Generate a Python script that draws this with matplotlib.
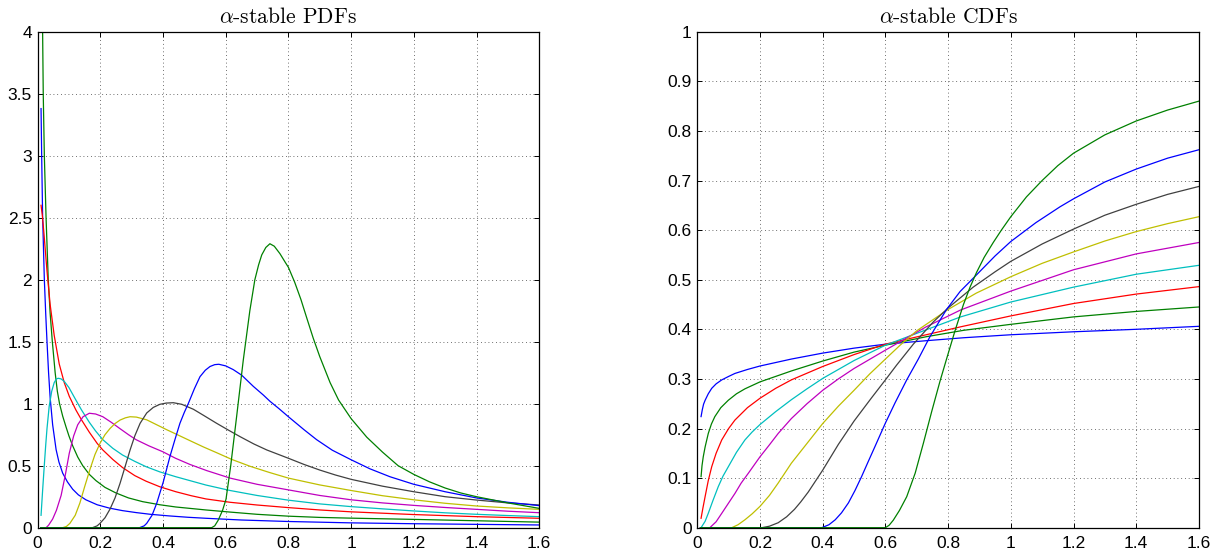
import matplotlib
matplotlib.use("Agg")
import matplotlib.pyplot as plt

plt.rcParams['mathtext.fontset'] = 'cm'
plt.rcParams['font.family'] = ['Liberation Sans', 'DejaVu Sans']

# ---------------- data ----------------
colors = ['#0000ff', '#008000', '#ff0000', '#00bfbf', '#bf00bf', '#bfbf00', '#404040', '#0000ff', '#008000']

# PDFs
pdf1_x = [0.011, 0.013, 0.016, 0.0215, 0.026, 0.03, 0.035, 0.04, 0.048, 0.059, 0.068, 0.08, 0.095, 0.112, 0.13, 0.154, 0.19, 0.229, 0.27, 0.314, 0.36, 0.42, 0.48, 0.537, 0.65, 0.8, 1.0, 1.2, 1.4, 1.6]
pdf1_y = [3.38, 3.0, 2.51, 2.0, 1.72, 1.5, 1.25, 1.05, 0.83, 0.63, 0.53, 0.44, 0.37, 0.31, 0.265, 0.225, 0.185, 0.158, 0.138, 0.122, 0.108, 0.095, 0.084, 0.076, 0.062, 0.05, 0.039, 0.032, 0.027, 0.022]
pdf2_x = [0.012, 0.016, 0.018, 0.0215, 0.027, 0.034, 0.04, 0.047, 0.056, 0.063, 0.07, 0.08, 0.091, 0.1, 0.112, 0.128, 0.144, 0.165, 0.186, 0.215, 0.25, 0.29, 0.335, 0.39, 0.441, 0.537, 0.614, 0.7, 0.8, 0.9, 1.0, 1.2, 1.4, 1.6]
pdf2_y = [5.0, 4.0, 3.5, 3.0, 2.5, 2.0, 1.73, 1.5, 1.25, 1.1, 1.0, 0.9, 0.81, 0.74, 0.66, 0.57, 0.5, 0.43, 0.38, 0.325, 0.28, 0.24, 0.21, 0.185, 0.167, 0.143, 0.126, 0.108, 0.093, 0.083, 0.077, 0.067, 0.056, 0.045]
pdf3_x = [0.011, 0.015, 0.02, 0.03, 0.04, 0.053, 0.069, 0.085, 0.101, 0.122, 0.14, 0.165, 0.19, 0.208, 0.24, 0.271, 0.31, 0.346, 0.39, 0.441, 0.49, 0.537, 0.614, 0.7, 0.8, 0.9, 1.0, 1.2, 1.4, 1.6]
pdf3_y = [2.6, 2.52, 2.38, 2.07, 1.80, 1.55, 1.32, 1.17, 1.06, 0.95, 0.87, 0.77, 0.68, 0.627, 0.55, 0.485, 0.42, 0.375, 0.33, 0.29, 0.258, 0.232, 0.205, 0.183, 0.162, 0.143, 0.128, 0.106, 0.089, 0.076]
pdf4_x = [0.011, 0.016, 0.021, 0.026, 0.03, 0.037, 0.045, 0.053, 0.06, 0.066, 0.075, 0.085, 0.1, 0.122, 0.14, 0.165, 0.185, 0.208, 0.24, 0.271, 0.31, 0.346, 0.39, 0.441, 0.537, 0.614, 0.7, 0.8, 0.9, 1.0, 1.1, 1.2, 1.3, 1.4, 1.5, 1.6]
pdf4_y = [0.10, 0.3, 0.49, 0.67, 0.8, 0.98, 1.1, 1.17, 1.2, 1.205, 1.2, 1.18, 1.13, 1.03, 0.95, 0.85, 0.78, 0.71, 0.64, 0.586, 0.535, 0.492, 0.45, 0.411, 0.344, 0.30, 0.26, 0.222, 0.192, 0.17, 0.152, 0.135, 0.12, 0.108, 0.098, 0.089]
pdf5_x = [0.01, 0.027, 0.035, 0.048, 0.06, 0.075, 0.088, 0.101, 0.115, 0.128, 0.145, 0.165, 0.185, 0.208, 0.235, 0.261, 0.29, 0.314, 0.355, 0.399, 0.44, 0.486, 0.54, 0.614, 0.7, 0.8, 0.9, 1.0, 1.1, 1.2, 1.3, 1.4, 1.5, 1.6]
pdf5_y = [0, 0, 0.02, 0.07, 0.14, 0.26, 0.42, 0.6, 0.74, 0.83, 0.895, 0.923, 0.917, 0.895, 0.85, 0.802, 0.75, 0.71, 0.66, 0.613, 0.56, 0.51, 0.46, 0.40, 0.35, 0.305, 0.26, 0.225, 0.2, 0.18, 0.163, 0.148, 0.133, 0.121]
pdf6_x = [0.01, 0.08, 0.092, 0.103, 0.12, 0.135, 0.15, 0.167, 0.183, 0.199, 0.215, 0.231, 0.247, 0.263, 0.28, 0.295, 0.315, 0.348, 0.38, 0.412, 0.45, 0.486, 0.53, 0.571, 0.62, 0.678, 0.74, 0.8, 0.9, 1.0, 1.1, 1.2, 1.3, 1.4, 1.5, 1.6]
pdf6_y = [0, 0, 0.01, 0.035, 0.1, 0.2, 0.33, 0.47, 0.59, 0.68, 0.75, 0.80, 0.84, 0.868, 0.886, 0.895, 0.892, 0.87, 0.83, 0.79, 0.745, 0.702, 0.65, 0.605, 0.55, 0.495, 0.445, 0.40, 0.345, 0.3, 0.258, 0.225, 0.197, 0.175, 0.16, 0.148]
pdf7_x = [0.01, 0.175, 0.19, 0.199, 0.215, 0.231, 0.247, 0.263, 0.28, 0.295, 0.31, 0.327, 0.348, 0.369, 0.39, 0.41, 0.433, 0.46, 0.497, 0.53, 0.571, 0.61, 0.646, 0.69, 0.731, 0.8, 0.85, 0.9, 0.95, 1.0, 1.1, 1.2, 1.3, 1.4, 1.5, 1.6]
pdf7_y = [0, 0, 0.015, 0.035, 0.08, 0.15, 0.24, 0.358, 0.5, 0.627, 0.74, 0.842, 0.925, 0.97, 0.995, 1.005, 1.008, 0.995, 0.955, 0.905, 0.842, 0.785, 0.734, 0.675, 0.627, 0.56, 0.51, 0.465, 0.425, 0.39, 0.335, 0.29, 0.25, 0.223, 0.2, 0.183]
pdf8_x = [0.01, 0.325, 0.34, 0.348, 0.365, 0.38, 0.401, 0.422, 0.438, 0.454, 0.468, 0.481, 0.5, 0.518, 0.535, 0.55, 0.565, 0.578, 0.6, 0.624, 0.651, 0.688, 0.72, 0.741, 0.77, 0.8, 0.85, 0.89, 0.94, 1.0, 1.06, 1.124, 1.2, 1.3, 1.4, 1.5, 1.6]
pdf8_y = [0, 0, 0.015, 0.035, 0.1, 0.197, 0.37, 0.573, 0.71, 0.842, 0.93, 1.003, 1.12, 1.218, 1.27, 1.30, 1.315, 1.318, 1.305, 1.275, 1.23, 1.14, 1.07, 1.02, 0.96, 0.895, 0.79, 0.71, 0.625, 0.548, 0.475, 0.411, 0.35, 0.29, 0.24, 0.205, 0.178]
pdf9_x = [0.01, 0.555, 0.565, 0.576, 0.59, 0.601, 0.616, 0.635, 0.656, 0.677, 0.693, 0.705, 0.715, 0.728, 0.741, 0.755, 0.773, 0.79, 0.8, 0.82, 0.84, 0.86, 0.879, 0.9, 0.933, 0.96, 1.0, 1.05, 1.1, 1.15, 1.2, 1.25, 1.3, 1.35, 1.4, 1.5, 1.6]
pdf9_y = [0, 0, 0.015, 0.06, 0.14, 0.23, 0.5, 0.9, 1.35, 1.75, 2.0, 2.12, 2.2, 2.26, 2.29, 2.27, 2.21, 2.14, 2.10, 1.98, 1.84, 1.68, 1.53, 1.38, 1.17, 1.03, 0.88, 0.73, 0.61, 0.5, 0.43, 0.37, 0.32, 0.28, 0.25, 0.20, 0.156]

# CDFs
cdf1_x = [0.012, 0.016, 0.02, 0.025, 0.035, 0.046, 0.06, 0.078, 0.1, 0.12, 0.16, 0.2, 0.3, 0.4, 0.5, 0.6, 0.73, 0.85, 1.0, 1.2, 1.4, 1.6]
cdf1_y = [0.224, 0.238, 0.249, 0.257, 0.27, 0.281, 0.29, 0.298, 0.305, 0.311, 0.319, 0.326, 0.340, 0.352, 0.362, 0.370, 0.377, 0.383, 0.389, 0.395, 0.40, 0.406]
cdf2_x = [0.012, 0.015, 0.019, 0.025, 0.035, 0.045, 0.056, 0.075, 0.099, 0.125, 0.152, 0.2, 0.25, 0.3, 0.4, 0.5, 0.6, 0.73, 0.85, 1.0, 1.2, 1.4, 1.6]
cdf2_y = [0.103, 0.125, 0.143, 0.163, 0.19, 0.209, 0.224, 0.242, 0.257, 0.27, 0.28, 0.294, 0.305, 0.316, 0.336, 0.354, 0.368, 0.385, 0.398, 0.41, 0.425, 0.436, 0.445]
cdf3_x = [0.012, 0.018, 0.025, 0.035, 0.046, 0.06, 0.078, 0.1, 0.12, 0.16, 0.2, 0.25, 0.3, 0.4, 0.5, 0.6, 0.73, 0.84, 1.0, 1.2, 1.4, 1.6]
cdf3_y = [0.019, 0.04, 0.063, 0.095, 0.123, 0.15, 0.177, 0.2, 0.217, 0.242, 0.261, 0.281, 0.298, 0.325, 0.349, 0.37, 0.389, 0.405, 0.427, 0.452, 0.471, 0.486]
cdf4_x = [0.014, 0.025, 0.035, 0.05, 0.067, 0.082, 0.099, 0.125, 0.152, 0.175, 0.2, 0.25, 0.3, 0.35, 0.4, 0.5, 0.6, 0.73, 0.84, 1.0, 1.2, 1.4, 1.6]
cdf4_y = [0.002, 0.013, 0.029, 0.055, 0.083, 0.104, 0.123, 0.152, 0.177, 0.193, 0.208, 0.234, 0.258, 0.28, 0.301, 0.337, 0.368, 0.399, 0.425, 0.455, 0.485, 0.511, 0.529]
cdf5_x = [0.01, 0.04, 0.06, 0.078, 0.1, 0.12, 0.14, 0.163, 0.2, 0.23, 0.258, 0.3, 0.35, 0.4, 0.45, 0.5, 0.6, 0.73, 0.84, 1.0, 1.2, 1.4, 1.6]
cdf5_y = [0, 0, 0.012, 0.029, 0.05, 0.069, 0.09, 0.11, 0.143, 0.167, 0.19, 0.22, 0.25, 0.277, 0.3, 0.321, 0.358, 0.405, 0.439, 0.477, 0.52, 0.552, 0.575]
cdf6_x = [0.01, 0.11, 0.13, 0.152, 0.175, 0.2, 0.23, 0.258, 0.3, 0.35, 0.4, 0.45, 0.5, 0.55, 0.6, 0.647, 0.7, 0.8, 0.89, 1.0, 1.1, 1.2, 1.3, 1.4, 1.5, 1.6]
cdf6_y = [0, 0, 0.006, 0.016, 0.028, 0.043, 0.065, 0.09, 0.13, 0.17, 0.21, 0.245, 0.277, 0.31, 0.34, 0.368, 0.397, 0.44, 0.473, 0.506, 0.533, 0.556, 0.578, 0.597, 0.613, 0.627]
cdf7_x = [0.01, 0.206, 0.23, 0.258, 0.285, 0.31, 0.33, 0.354, 0.4, 0.45, 0.5, 0.556, 0.6, 0.636, 0.689, 0.753, 0.8, 0.88, 0.95, 1.0, 1.1, 1.2, 1.3, 1.4, 1.5, 1.6]
cdf7_y = [0, 0, 0.003, 0.01, 0.022, 0.037, 0.052, 0.072, 0.116, 0.168, 0.215, 0.262, 0.298, 0.328, 0.37, 0.415, 0.443, 0.485, 0.516, 0.537, 0.572, 0.602, 0.63, 0.652, 0.672, 0.688]
cdf8_x = [0.01, 0.397, 0.42, 0.44, 0.46, 0.482, 0.503, 0.524, 0.545, 0.567, 0.6, 0.631, 0.668, 0.705, 0.742, 0.795, 0.838, 0.891, 0.95, 1.0, 1.08, 1.157, 1.2, 1.3, 1.4, 1.5, 1.6]
cdf8_y = [0, 0, 0.006, 0.016, 0.03, 0.05, 0.075, 0.103, 0.133, 0.164, 0.211, 0.252, 0.298, 0.34, 0.385, 0.44, 0.476, 0.51, 0.548, 0.577, 0.615, 0.647, 0.663, 0.697, 0.723, 0.745, 0.762]
cdf9_x = [0.01, 0.6, 0.612, 0.625, 0.645, 0.668, 0.695, 0.721, 0.748, 0.774, 0.795, 0.822, 0.849, 0.87, 0.891, 0.915, 0.944, 0.97, 1.0, 1.05, 1.1, 1.15, 1.2, 1.3, 1.4, 1.5, 1.6]
cdf9_y = [0, 0, 0.005, 0.015, 0.035, 0.0625, 0.11, 0.17, 0.235, 0.295, 0.34, 0.397, 0.45, 0.485, 0.515, 0.545, 0.575, 0.6, 0.627, 0.667, 0.70, 0.73, 0.755, 0.792, 0.82, 0.842, 0.86]

x_ticks = [0, 0.2, 0.4, 0.6, 0.8, 1.0, 1.2, 1.4, 1.6]
x_labels = ['0', '0.2', '0.4', '0.6', '0.8', '1', '1.2', '1.4', '1.6']
pdf_yticks = [0, 0.5, 1, 1.5, 2, 2.5, 3, 3.5, 4]
pdf_ylabels = ['0', '0.5', '1', '1.5', '2', '2.5', '3', '3.5', '4']
cdf_yticks = [0, 0.1, 0.2, 0.3, 0.4, 0.5, 0.6, 0.7, 0.8, 0.9, 1]
cdf_ylabels = ['0', '0.1', '0.2', '0.3', '0.4', '0.5', '0.6', '0.7', '0.8', '0.9', '1']

pdf_series = [(pdf1_x, pdf1_y), (pdf2_x, pdf2_y), (pdf3_x, pdf3_y), (pdf4_x, pdf4_y), (pdf5_x, pdf5_y),
              (pdf6_x, pdf6_y), (pdf7_x, pdf7_y), (pdf8_x, pdf8_y), (pdf9_x, pdf9_y)]
cdf_series = [(cdf1_x, cdf1_y), (cdf2_x, cdf2_y), (cdf3_x, cdf3_y), (cdf4_x, cdf4_y), (cdf5_x, cdf5_y),
              (cdf6_x, cdf6_y), (cdf7_x, cdf7_y), (cdf8_x, cdf8_y), (cdf9_x, cdf9_y)]

# ---------------- figure ----------------
W, H = 1220, 554
fig = plt.figure(figsize=(W / 100, H / 100), dpi=100)
axL = fig.add_axes([37.6 / W, (H - 527.7) / H, 501.6 / W, 496 / H])
axR = fig.add_axes([697.3 / W, (H - 527.7) / H, 501.6 / W, 496 / H])


def style(ax, yticks, ylabels, ymax, title):
    ax.set_xlim(0, 1.6)
    ax.set_ylim(0, ymax)
    ax.set_xticks(x_ticks)
    ax.set_xticklabels(x_labels)
    ax.set_yticks(yticks)
    ax.set_yticklabels(ylabels)
    ax.tick_params(direction='in', length=3.5, width=0.7, top=True, right=True,
                   labelsize=12.5, colors='black')
    ax.tick_params(axis='x', pad=6)
    ax.tick_params(axis='y', pad=4)
    ax.grid(True, color='0.25', linestyle=(0, (1, 3.5)), linewidth=0.6)
    for s in ax.spines.values():
        s.set_linewidth(0.9)
    ax.set_title(title, fontfamily='cmr10', fontsize=15.5, pad=6)


for (xs, ys), c in zip(pdf_series, colors):
    axL.plot(xs, ys, color=c, linewidth=0.9)
for (xs, ys), c in zip(cdf_series, colors):
    axR.plot(xs, ys, color=c, linewidth=0.9)

style(axL, pdf_yticks, pdf_ylabels, 4, r'$\alpha$-stable PDFs')
style(axR, cdf_yticks, cdf_ylabels, 1, r'$\alpha$-stable CDFs')

fig.savefig('out.png', dpi=100)
